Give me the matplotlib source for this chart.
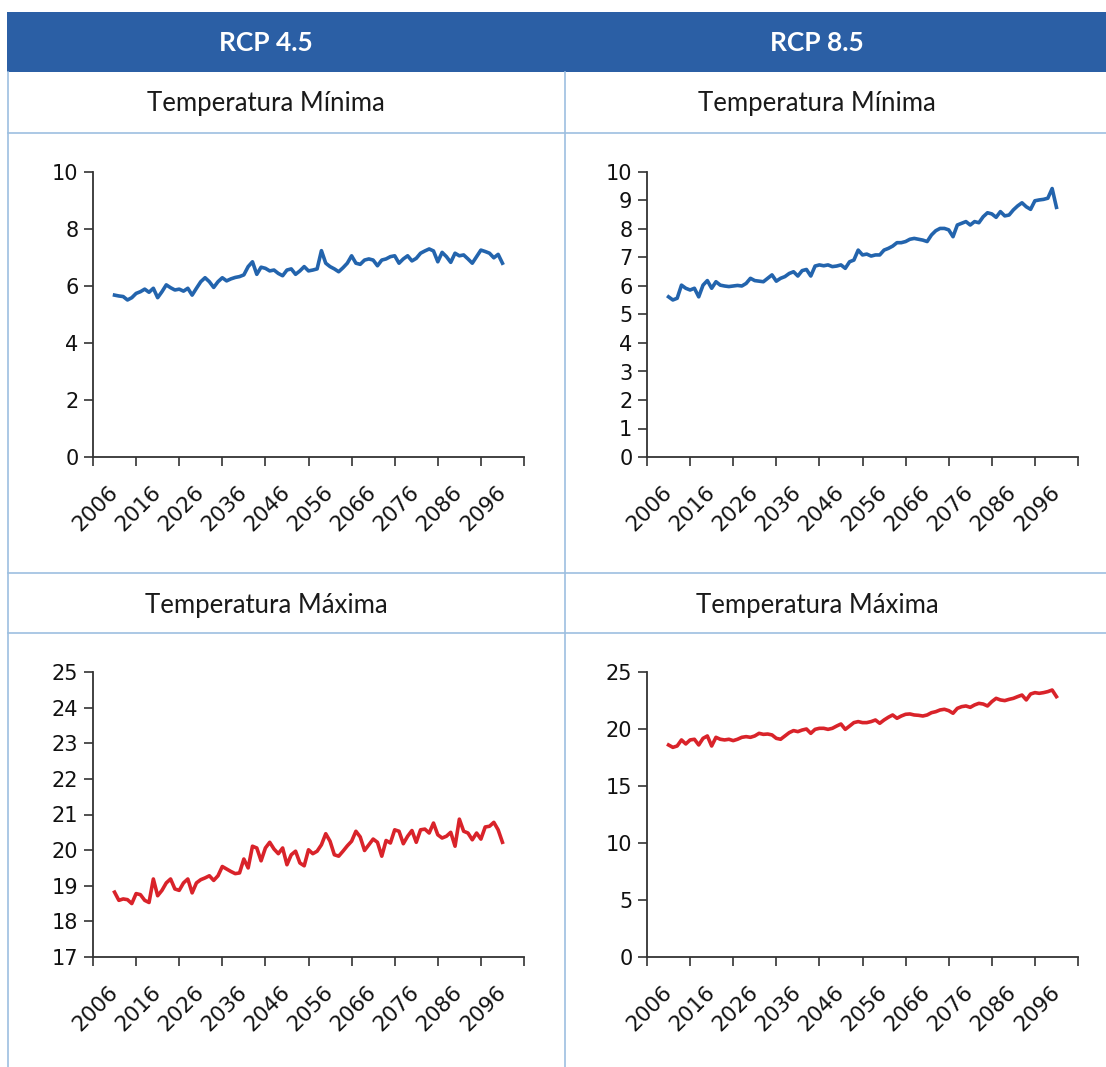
import matplotlib
matplotlib.use("Agg")
import matplotlib.pyplot as plt
from matplotlib.lines import Line2D
from matplotlib.patches import Rectangle
import numpy as np

# scenario headers / row titles
scenarios = ["RCP 4.5", "RCP 8.5"]
row_titles = ["Temperatura Mínima", "Temperatura Máxima"]

years = list(range(2006, 2097))
year_labels = [str(y) for y in range(2006, 2097, 10)]

tmin_45 = [5.68, 5.65, 5.63, 5.51, 5.59, 5.74, 5.80, 5.89, 5.78, 5.92,
           5.59, 5.80, 6.04, 5.94, 5.86, 5.89, 5.82, 5.92, 5.68, 5.92,
           6.15, 6.29, 6.15, 5.95, 6.15, 6.29, 6.18, 6.25, 6.30, 6.33,
           6.39, 6.68, 6.85, 6.41, 6.66, 6.62, 6.53, 6.56, 6.44, 6.36,
           6.56, 6.60, 6.41, 6.53, 6.68, 6.53, 6.56, 6.60, 7.24, 6.80,
           6.68, 6.60, 6.50, 6.64, 6.80, 7.06, 6.80, 6.76, 6.91, 6.95,
           6.91, 6.71, 6.91, 6.95, 7.03, 7.06, 6.80, 6.95, 7.06, 6.88,
           6.97, 7.15, 7.23, 7.30, 7.23, 6.85, 7.18, 7.03, 6.83, 7.15,
           7.06, 7.09, 6.95, 6.80, 7.03, 7.26, 7.21, 7.15, 6.99, 7.11,
           6.80]

tmin_85 = [5.62, 5.51, 5.57, 6.03, 5.92, 5.86, 5.92, 5.62, 6.03, 6.19,
           5.92, 6.15, 6.03, 6.00, 5.98, 6.00, 6.02, 6.00, 6.09, 6.27,
           6.19, 6.17, 6.15, 6.27, 6.39, 6.17, 6.27, 6.33, 6.44, 6.50,
           6.35, 6.54, 6.58, 6.35, 6.70, 6.74, 6.71, 6.74, 6.68, 6.70,
           6.74, 6.62, 6.85, 6.91, 7.26, 7.09, 7.12, 7.05, 7.09, 7.09,
           7.26, 7.32, 7.40, 7.52, 7.52, 7.56, 7.64, 7.67, 7.64, 7.61,
           7.56, 7.79, 7.94, 8.02, 8.02, 7.97, 7.73, 8.14, 8.20, 8.26,
           8.14, 8.26, 8.22, 8.43, 8.57, 8.53, 8.41, 8.61, 8.46, 8.49,
           8.67, 8.81, 8.92, 8.78, 8.69, 8.99, 9.02, 9.04, 9.08, 9.42,
           8.76]

tmax_45 = [18.82, 18.59, 18.63, 18.61, 18.50, 18.78, 18.75, 18.59, 18.53, 19.19,
           18.72, 18.87, 19.08, 19.19, 18.91, 18.87, 19.08, 19.19, 18.80, 19.08,
           19.17, 19.22, 19.28, 19.15, 19.28, 19.54, 19.47, 19.40, 19.34, 19.36,
           19.75, 19.50, 20.11, 20.06, 19.70, 20.06, 20.22, 20.03, 19.90, 20.06,
           19.59, 19.87, 19.97, 19.64, 19.56, 20.01, 19.90, 19.97, 20.15, 20.46,
           20.25, 19.87, 19.83, 19.97, 20.12, 20.25, 20.53, 20.37, 19.99, 20.15,
           20.31, 20.22, 19.83, 20.27, 20.20, 20.57, 20.53, 20.18, 20.39, 20.55,
           20.22, 20.57, 20.59, 20.48, 20.76, 20.43, 20.34, 20.39, 20.50, 20.11,
           20.87, 20.53, 20.48, 20.29, 20.48, 20.31, 20.65, 20.67, 20.78, 20.57,
           20.22]

tmax_85 = [18.60, 18.39, 18.51, 19.04, 18.69, 19.04, 19.10, 18.60, 19.18, 19.39,
           18.51, 19.27, 19.10, 19.04, 19.10, 18.98, 19.10, 19.27, 19.33, 19.27,
           19.39, 19.62, 19.53, 19.56, 19.48, 19.18, 19.10, 19.39, 19.68, 19.86,
           19.77, 19.91, 20.00, 19.62, 19.97, 20.06, 20.06, 19.97, 20.06, 20.26,
           20.44, 19.97, 20.26, 20.56, 20.65, 20.56, 20.56, 20.65, 20.79, 20.50,
           20.79, 21.03, 21.23, 20.94, 21.14, 21.29, 21.32, 21.23, 21.20, 21.14,
           21.23, 21.43, 21.52, 21.67, 21.73, 21.61, 21.38, 21.81, 21.96, 22.02,
           21.90, 22.11, 22.25, 22.19, 22.02, 22.40, 22.69, 22.55, 22.49, 22.60,
           22.69, 22.84, 22.98, 22.55, 23.07, 23.19, 23.13, 23.19, 23.28, 23.42,
           22.84]

W, H = 1106, 1067
BLUE_HDR = "#2b5fa5"
GRID = "#9dbfe0"
LINE_BLUE = "#2364ad"
LINE_RED = "#d9232a"
AXC = "#333333"

plt.rcParams["font.family"] = ["Lato", "DejaVu Sans"]

fig = plt.figure(figsize=(W / 100, H / 100), dpi=100)


def fx(x):
    return x / W


def fy(y):
    return 1 - y / H


# header band
fig.add_artist(Rectangle((fx(7), fy(72)), fx(W - 7), (72 - 12) / H,
                         transform=fig.transFigure, color=BLUE_HDR, lw=0))
for name, cx in zip(scenarios, [266, 817]):
    fig.text(fx(cx), fy(43), name, color="white", fontsize=19,
             fontweight="bold", ha="center", va="center")

# table lines
for y in [133, 573, 633]:
    fig.add_artist(Line2D([fx(8), 1], [fy(y), fy(y)], color=GRID, lw=1.2,
                          transform=fig.transFigure))
for x in [8, 565]:
    fig.add_artist(Line2D([fx(x), fx(x)], [fy(72), 0], color=GRID, lw=1.2,
                          transform=fig.transFigure))

for title, ty in zip(row_titles, [103, 605]):
    for cx in [266, 817]:
        fig.text(fx(cx), fy(ty), title, color="#1a1a1a", fontsize=18.5,
                 fontweight="normal", ha="center", va="center")

panels = [
    (93, 457, tmin_45, LINE_BLUE, (0, 10), np.arange(0, 11, 2)),
    (647, 457, tmin_85, LINE_BLUE, (0, 10), np.arange(0, 11, 1)),
    (93, 957, tmax_45, LINE_RED, (17, 25), np.arange(17, 26, 1)),
    (647, 957, tmax_85, LINE_RED, (0, 25), np.arange(0, 26, 5)),
]

for x0, ybot, vals, col, ylim, yt in panels:
    ax = fig.add_axes([fx(x0), fy(ybot), 431 / W, 285 / H])
    ax.plot(years, vals, color=col, lw=2.6, solid_joinstyle="round")
    ax.set_xlim(2001, 2101)
    ax.set_ylim(*ylim)
    ax.set_yticks(yt)
    ax.set_yticklabels([str(v) for v in yt], family="DejaVu Sans")
    ax.set_xticks(range(2001, 2102, 10))
    ax.set_xticklabels([])
    ax.set_xticks(range(2006, 2097, 10), minor=True)
    ax.set_xticklabels(year_labels, minor=True, rotation=45, ha="right",
                       va="center", rotation_mode="anchor",
                       family="DejaVu Sans")
    for s in ["top", "right"]:
        ax.spines[s].set_visible(False)
    for s in ["left", "bottom"]:
        ax.spines[s].set_color(AXC)
        ax.spines[s].set_linewidth(1.3)
    ax.tick_params(axis="y", direction="out", length=6.5, width=1.2,
                   color=AXC, labelsize=15, pad=4, labelcolor="#111111")
    ax.tick_params(axis="x", which="major", direction="out", length=6.5,
                   width=1.2, color=AXC)
    ax.tick_params(axis="x", which="minor", length=0, labelsize=15.5, pad=23,
                   labelcolor="#111111")
    ax.set_facecolor("none")

fig.savefig("out.png", dpi=100)
